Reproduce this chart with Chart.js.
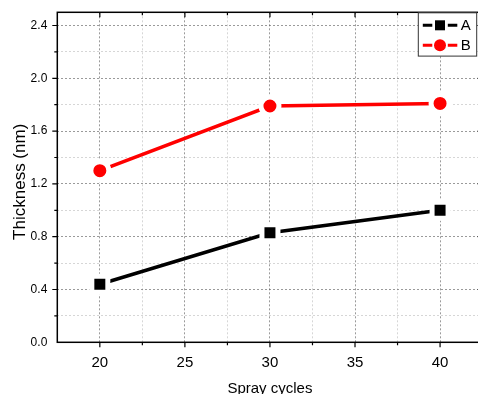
<!DOCTYPE html>
<html><head><meta charset="utf-8">
<script src="https://cdn.jsdelivr.net/npm/chart.js@4"></script>
<style>html,body{margin:0;padding:0;overflow:hidden;background:#fff;width:478px;height:394px}canvas{display:block}</style>
</head><body>
<canvas id="c" width="484" height="394" style="width:484px;height:394px"></canvas>
<script>
const cycles = [20, 30, 40];
const seriesA = [0.44, 0.83, 1.00];
const seriesB = [1.30, 1.79, 1.81];
const seriesNames = ['A', 'B'];
const seriesColors = ['#000000', '#ff0000'];
const xTickLabels = [20, 25, 30, 35, 40];
const yTickLabels = ['0.0', '0.4', '0.8', '1.2', '1.6', '2.0', '2.4'];
const xTitle = 'Spray cycles';
const yTitle = 'Thickness (nm)';

const FONT = '"Liberation Sans", Arial, sans-serif';
const isXMajor = v => xTickLabels.some(t => Math.abs(t - v) < 1e-6);
const isYMajor = v => yTickLabels.some(t => Math.abs(parseFloat(t) - v) < 1e-6);

function pts(ys) { return cycles.map((x, i) => ({x, y: ys[i]})); }

const framePlugin = {
  id: 'frame',
  afterDraw(chart) {
    const {ctx, chartArea: a, scales: {x, y}} = chart;
    ctx.save();
    ctx.strokeStyle = '#000';
    ctx.lineWidth = 1.5;
    ctx.strokeRect(a.left, a.top, a.right - a.left, a.bottom - a.top);
    ctx.lineWidth = 1.2;
    ctx.beginPath();
    x.ticks.forEach(t => {
      const px = x.getPixelForValue(t.value);
      if (px <= a.left + 1 || px >= a.right - 1) return;
      const L = isXMajor(t.value) ? 5 : 3;
      ctx.moveTo(px, a.bottom); ctx.lineTo(px, a.bottom + L);
      ctx.moveTo(px, a.top); ctx.lineTo(px, a.top + L);
    });
    y.ticks.forEach(t => {
      const py = y.getPixelForValue(t.value);
      if (py <= a.top + 1 || py >= a.bottom - 1) return;
      const L = isYMajor(t.value) ? 5 : 3;
      ctx.moveTo(a.left, py); ctx.lineTo(a.left - L, py);
      ctx.moveTo(a.right, py); ctx.lineTo(a.right - L, py);
    });
    ctx.stroke();

    // axis titles
    ctx.fillStyle = '#000';
    ctx.textAlign = 'center';
    ctx.textBaseline = 'alphabetic';
    ctx.font = '15px ' + FONT;
    ctx.fillText(xTitle, (a.left + a.right) / 2, a.bottom + 50.2);
    ctx.save();
    ctx.translate(24.5, (a.top + a.bottom) / 2 + 4.5);
    ctx.rotate(-Math.PI / 2);
    ctx.font = '17px ' + FONT;
    ctx.fillText(yTitle, 0, 0);
    ctx.restore();

    // legend
    const bx = 418.3, by = a.top + 0.5, bw = 58.4, bh = 43.3;
    ctx.fillStyle = '#fff';
    ctx.fillRect(bx, by, bw, bh);
    ctx.strokeStyle = '#333';
    ctx.lineWidth = 1;
    ctx.strokeRect(bx, by, bw, bh);
    seriesNames.forEach((name, i) => {
      const cy = by + 12.5 + i * 20;
      const col = seriesColors[i];
      ctx.strokeStyle = col; ctx.lineWidth = 3;
      ctx.beginPath();
      ctx.moveTo(bx + 4.5, cy); ctx.lineTo(bx + 14, cy);
      ctx.moveTo(bx + 29.5, cy); ctx.lineTo(bx + 39, cy);
      ctx.stroke();
      ctx.fillStyle = col;
      ctx.beginPath();
      if (i === 0) ctx.rect(bx + 21.7 - 5, cy - 5, 10, 10);
      else ctx.arc(bx + 21.7, cy, 6, 0, Math.PI * 2);
      ctx.fill();
      ctx.fillStyle = '#000';
      ctx.font = '15px ' + FONT;
      ctx.textBaseline = 'middle';
      ctx.textAlign = 'left';
      ctx.fillText(name, bx + 42.5, cy + 1);
    });
    ctx.restore();
  }
};

new Chart(document.getElementById('c'), {
  type: 'line',
  data: {
    datasets: [
      {label: seriesNames[0], data: pts(seriesA), borderColor: seriesColors[0], backgroundColor: seriesColors[0],
       borderWidth: 3.5, pointStyle: 'rect', pointRadius: 11.3, pointBorderWidth: 5, pointBorderColor: '#fff', pointBackgroundColor: seriesColors[0]},
      {label: seriesNames[1], data: pts(seriesB), borderColor: seriesColors[1], backgroundColor: seriesColors[1],
       borderWidth: 3.5, pointStyle: 'circle', pointRadius: 9, pointBorderWidth: 5, pointBorderColor: '#fff', pointBackgroundColor: seriesColors[1]}
    ]
  },
  options: {
    responsive: false, animation: false, events: [],
    layout: {autoPadding: false, padding: {left: 0, right: 1.4, top: 12.3, bottom: 0}},
    plugins: {legend: {display: false}, tooltip: {enabled: false}},
    scales: {
      x: {
        type: 'linear', min: 17.5, max: 42.5,
        afterFit(s) { s.height = 394 - 342.3; s.paddingLeft = 0; s.paddingRight = 0; },
        ticks: {stepSize: 2.5, includeBounds: false, autoSkip: false, maxRotation: 0, padding: 12, color: '#000',
          font: {family: FONT, size: 15},
          callback: v => isXMajor(v) ? String(v) : ''},
        grid: {drawTicks: false, lineWidth: 1,
          color: c => isXMajor(c.tick.value) ? 'rgba(100,100,100,0.65)' : 'rgba(180,180,180,0.55)'},
        border: {display: false, dash: [2, 2]}
      },
      y: {
        min: 0, max: 2.5,
        afterFit(s) { s.width = 57.3; s.paddingTop = 0; s.paddingBottom = 0; },
        ticks: {stepSize: 0.2, includeBounds: false, autoSkip: false, padding: 10, color: '#000',
          font: {family: FONT, size: 12},
          callback: v => isYMajor(v) ? v.toFixed(1) : ''},
        grid: {drawTicks: false, lineWidth: 1,
          color: c => isYMajor(c.tick.value) ? 'rgba(100,100,100,0.65)' : 'rgba(180,180,180,0.55)'},
        border: {display: false, dash: [2, 2]}
      }
    }
  },
  plugins: [framePlugin]
});
</script>
</body></html>
